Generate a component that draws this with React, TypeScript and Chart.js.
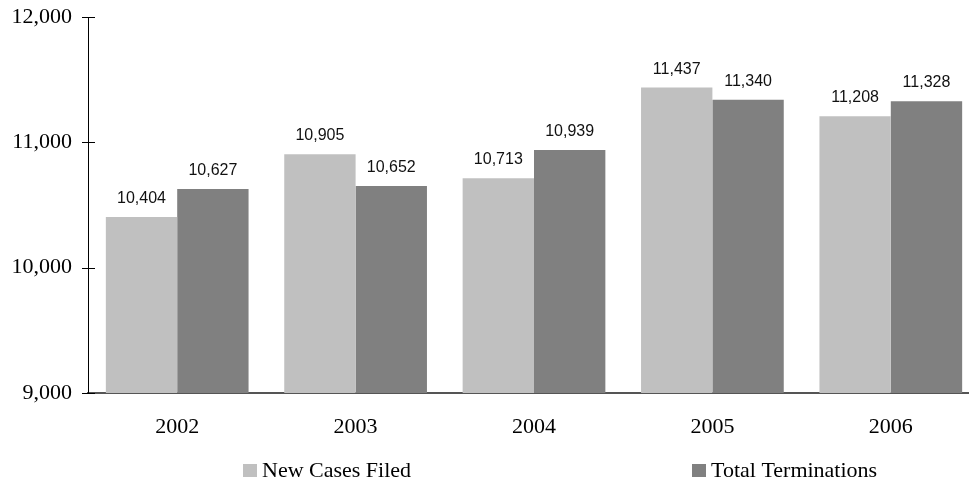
import React, { useEffect, useRef } from "react";
import { Chart, registerables } from "chart.js";

Chart.register(...registerables);

const years = ["2002", "2003", "2004", "2005", "2006"];
const newCasesFiled = [10404, 10905, 10713, 11437, 11208];
const totalTerminations = [10627, 10652, 10939, 11340, 11328];
const yTicks = [9000, 10000, 11000, 12000];
const seriesNames = ["New Cases Filed", "Total Terminations"];
const seriesColors = ["#c0c0c0", "#808080"];

const SERIF = "'Liberation Serif', 'DejaVu Serif', serif";
const SANS = "'Liberation Sans', Arial, sans-serif";

const fmt = (v: number) => v.toLocaleString("en-US");

const barLabels = {
  id: "barLabels",
  afterDatasetsDraw(chart: any) {
    const ctx = chart.ctx;
    ctx.save();
    ctx.font = `16px ${SANS}`;
    ctx.fillStyle = "#111";
    ctx.textAlign = "center";
    ctx.textBaseline = "alphabetic";
    chart.data.datasets.forEach((ds: any, di: number) => {
      const meta = chart.getDatasetMeta(di);
      meta.data.forEach((bar: any, i: number) => {
        ctx.fillText(fmt(ds.data[i]), bar.x, bar.y - 14);
      });
    });
    ctx.restore();
  },
};

const crossTicks = {
  id: "crossTicks",
  afterDraw(chart: any) {
    const ctx = chart.ctx;
    const y = chart.scales.y;
    const x0 = chart.chartArea.left;
    ctx.save();
    ctx.strokeStyle = "#000";
    ctx.lineWidth = 1;
    yTicks.forEach((t) => {
      const py = Math.round(y.getPixelForValue(t)) + 0.5;
      ctx.beginPath();
      ctx.moveTo(x0 - 6, py);
      ctx.lineTo(x0 + 7, py);
      ctx.stroke();
    });
    ctx.restore();
  },
};

const customLegend = {
  id: "customLegend",
  afterDraw(chart: any) {
    const ctx = chart.ctx;
    const positions = [243, 692];
    ctx.save();
    ctx.font = `22px ${SERIF}`;
    ctx.textBaseline = "alphabetic";
    ctx.textAlign = "left";
    seriesNames.forEach((name, i) => {
      ctx.fillStyle = seriesColors[i];
      ctx.fillRect(positions[i], 464, 14, 13);
      ctx.fillStyle = "#000";
      ctx.fillText(name, positions[i] + 19, 477);
    });
    ctx.restore();
  },
};

export default function App() {
  const ref = useRef<HTMLCanvasElement | null>(null);

  useEffect(() => {
    if (!ref.current) return;
    const chart = new Chart(ref.current, {
      type: "bar",
      data: {
        labels: years,
        datasets: [
          {
            label: seriesNames[0],
            data: newCasesFiled,
            backgroundColor: seriesColors[0],
            categoryPercentage: 0.8,
            barPercentage: 1,
          },
          {
            label: seriesNames[1],
            data: totalTerminations,
            backgroundColor: seriesColors[1],
            categoryPercentage: 0.8,
            barPercentage: 1,
          },
        ],
      },
      options: {
        responsive: false,
        animation: false,
        layout: { padding: { top: 17, right: 20, bottom: 0, left: 0 } },
        plugins: {
          legend: { display: false },
          tooltip: { enabled: false },
          title: { display: false },
        },
        scales: {
          x: {
            grid: { display: false, drawTicks: false },
            border: { display: true, color: "#555", width: 2 },
            ticks: {
              color: "#000",
              font: { family: SERIF, size: 22 },
              padding: 21,
            },
            afterFit(scale: any) {
              scale.height = 94;
              scale.paddingLeft = 0;
              scale.paddingRight = 0;
            },
          },
          y: {
            min: 9000,
            max: 12000,
            grid: { display: false, drawTicks: false },
            border: { display: true, color: "#000", width: 1 },
            afterBuildTicks(scale: any) {
              scale.ticks = yTicks.map((v) => ({ value: v }));
            },
            ticks: {
              color: "#000",
              font: { family: SERIF, size: 22 },
              padding: 16,
              callback: (v: any) => fmt(Number(v)),
            },
            afterFit(scale: any) {
              scale.width = 88;
              scale.paddingTop = 0;
              scale.paddingBottom = 0;
            },
          },
        },
      },
      plugins: [barLabels, crossTicks, customLegend],
    });
    return () => chart.destroy();
  }, []);

  return (
    <div
      style={{
        position: "absolute",
        left: 0,
        top: 0,
        width: 969,
        height: 487,
        overflow: "hidden",
        background: "#fff",
      }}
    >
      <canvas
        ref={ref}
        width={1000}
        height={487}
        style={{ position: "absolute", left: 0, top: 0, width: 1000, height: 487 }}
      />
    </div>
  );
}
